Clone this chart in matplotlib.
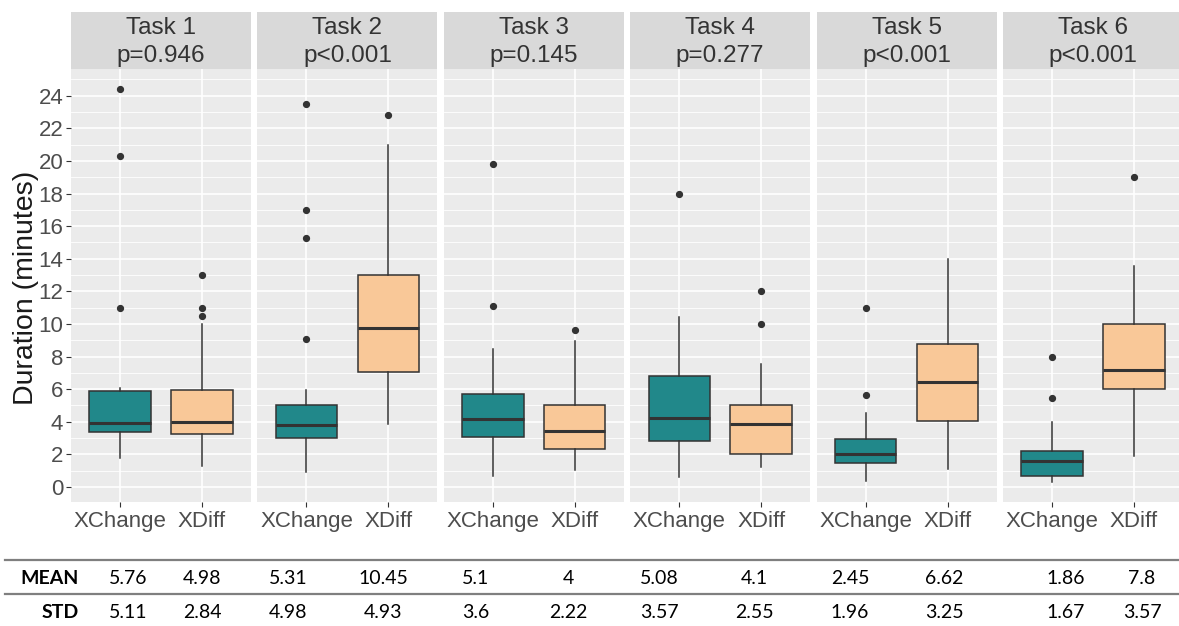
import matplotlib
matplotlib.use("Agg")
import matplotlib.pyplot as plt
from matplotlib.patches import Rectangle
from matplotlib.lines import Line2D

plt.rcParams["font.family"] = ["Liberation Sans", "DejaVu Sans"]

# ---- data ----
tasks = ["Task 1", "Task 2", "Task 3", "Task 4", "Task 5", "Task 6"]
p_values = ["p=0.946", "p<0.001", "p=0.145", "p=0.277", "p<0.001", "p<0.001"]
tools = ["XChange", "XDiff"]

# per task: [XChange, XDiff]
q1 = [[3.39, 3.23], [3.00, 7.07], [3.05, 2.35], [2.82, 2.05], [1.45, 4.03], [0.66, 6.01]]
median = [[3.93, 4.00], [3.78, 9.75], [4.17, 3.41], [4.21, 3.87], [2.02, 6.42], [1.60, 7.16]]
q3 = [[5.87, 5.95], [5.03, 13.02], [5.69, 5.05], [6.79, 5.01], [2.97, 8.77], [2.19, 9.98]]
whisk_lo = [[1.80, 1.29], [0.94, 3.87], [0.69, 1.04], [0.59, 1.25], [0.37, 1.10], [0.31, 1.92]]
whisk_hi = [[6.10, 9.98], [5.95, 20.96], [8.45, 8.98], [10.41, 7.53], [4.54, 13.99], [3.99, 13.58]]
outliers = [
    [[24.4, 20.3, 11.0], [13.0, 11.0, 10.5]],
    [[23.5, 17.0, 15.3, 9.1], [22.8]],
    [[19.8, 11.1], [9.6]],
    [[18.0], [12.0, 10.0]],
    [[10.95, 5.66], []],
    [[7.96, 5.46], [19.0]],
]

row_labels = ["MEAN", "STD"]
mean_vals = ["5.76", "4.98", "5.31", "10.45", "5.1", "4", "5.08", "4.1", "2.45", "6.62", "1.86", "7.8"]
std_vals = ["5.11", "2.84", "4.98", "4.93", "3.6", "2.22", "3.57", "2.55", "1.96", "3.25", "1.67", "3.57"]

box_colors = ["#21888A", "#F9C898"]

# ---- layout (pixels of the 1179x626 canvas) ----
W, H = 1179, 626
fig = plt.figure(figsize=(W / 100, H / 100), dpi=100)

panel_left0, panel_step, panel_w = 71, 186.4, 180
panel_top, panel_bottom = 69, 502
strip_top = 12
line_col = "#333333"

for i, task in enumerate(tasks):
    left = panel_left0 + i * panel_step
    ax = fig.add_axes([left / W, 1 - panel_bottom / H, panel_w / W,
                       (panel_bottom - panel_top) / H])
    ax.set_facecolor("#EBEBEB")
    for s in ax.spines.values():
        s.set_visible(False)

    stats = []
    for j in range(2):
        stats.append(dict(med=median[i][j], q1=q1[i][j], q3=q3[i][j],
                          whislo=whisk_lo[i][j], whishi=whisk_hi[i][j],
                          fliers=outliers[i][j]))
    bp = ax.bxp(stats, positions=[1, 2], widths=0.75, patch_artist=True,
                showcaps=False,
                boxprops=dict(edgecolor=line_col, linewidth=1.1),
                medianprops=dict(color=line_col, linewidth=2.2),
                whiskerprops=dict(color=line_col, linewidth=1.1),
                flierprops=dict(marker="o", markerfacecolor=line_col,
                                markeredgecolor=line_col, markersize=4.2))
    for patch, c in zip(bp["boxes"], box_colors):
        patch.set_facecolor(c)

    ax.set_xlim(0.4, 2.6)
    ax.set_ylim(-0.92, 25.64)
    ax.set_xticks([1, 2])
    ax.set_xticklabels(tools)
    ax.set_yticks(range(0, 25, 2))
    ax.set_yticks(range(1, 26, 2), minor=True)
    ax.set_axisbelow(True)
    ax.grid(which="major", color="white", linewidth=1.2)
    ax.grid(which="minor", color="white", linewidth=0.6)
    ax.tick_params(which="minor", length=0)
    ax.tick_params(axis="x", length=3.5, width=0.8, color=line_col, pad=3,
                   labelsize=16, labelcolor="#4D4D4D")
    if i == 0:
        ax.tick_params(axis="y", length=3.5, width=0.8, color=line_col, pad=2,
                       labelsize=16, labelcolor="#4D4D4D")
    else:
        ax.tick_params(axis="y", left=False, labelleft=False)

    # facet strip
    fig.add_artist(Rectangle((left / W, 1 - panel_top / H), panel_w / W,
                             (panel_top - strip_top) / H,
                             transform=fig.transFigure, facecolor="#D9D9D9",
                             edgecolor="none"))
    fig.text((left + panel_w / 2) / W, 1 - 42 / H, f"{task}\n{p_values[i]}",
             ha="center", va="center", fontsize=17.5, color="#333333",
             linespacing=1.35)

fig.text(26 / W, 1 - 288 / H, "Duration (minutes)", rotation=90,
         ha="center", va="center", fontsize=20.5, color="#1A1A1A")

# ---- summary table under the plot ----
col_x = [128, 202, 288, 383, 476, 568, 659, 754, 850, 944, 1066, 1142]
row_y = [579, 613]
for y in [560, 594]:
    fig.add_artist(Line2D([5 / W, 1], [1 - y / H, 1 - y / H],
                          transform=fig.transFigure, color="#7F7F7F", lw=1.6))
for label, vals, y in zip(row_labels, [mean_vals, std_vals], row_y):
    fig.text(79 / W, 1 - y / H, label, ha="right", va="center",
             fontsize=14, fontweight="bold", family=["Lato", "DejaVu Sans"])
    for x, v in zip(col_x, vals):
        fig.text(x / W, 1 - y / H, v, ha="center", va="center",
                 fontsize=14, family=["Lato", "DejaVu Sans"])

fig.savefig("out.png", dpi=100)
